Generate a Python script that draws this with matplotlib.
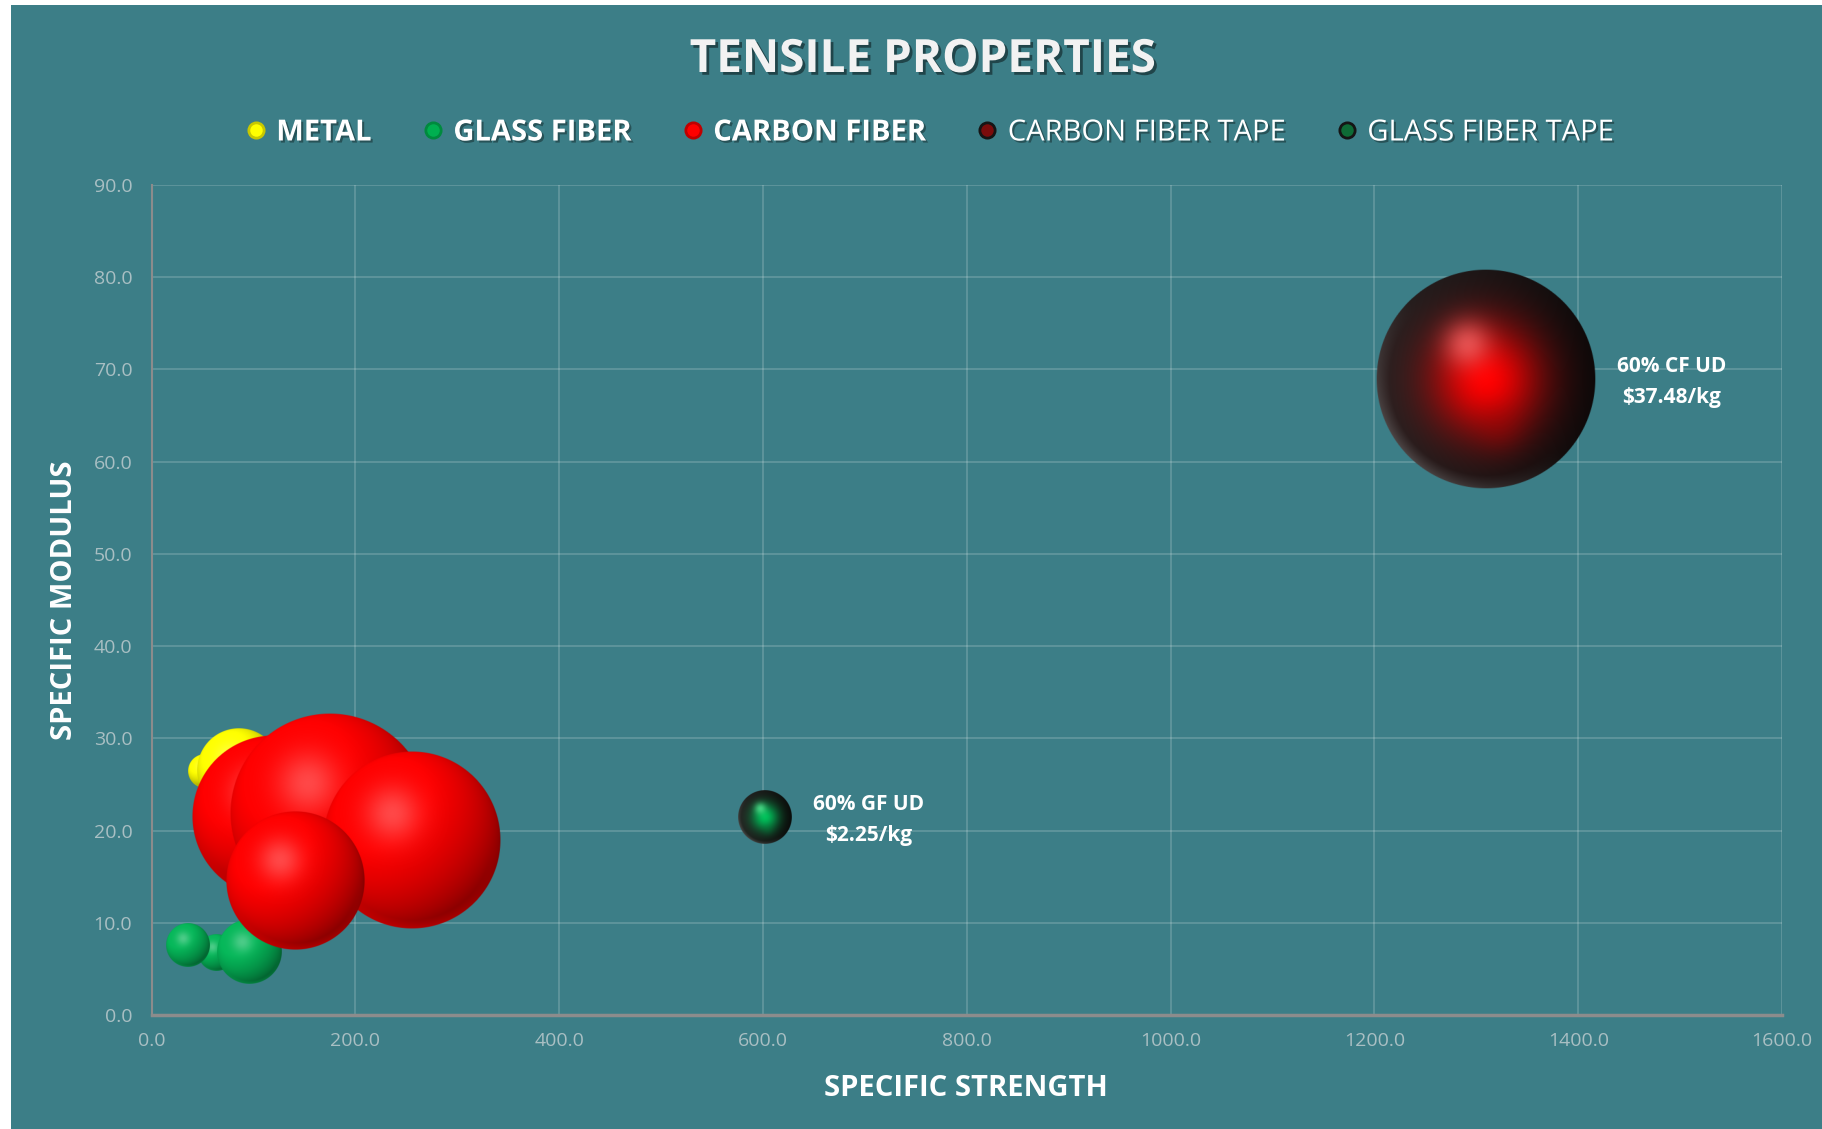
import numpy as np
import matplotlib.pyplot as plt
import matplotlib.patheffects as pe
from matplotlib.lines import Line2D
from matplotlib.patches import Rectangle
from matplotlib.ticker import FormatStrFormatter

plt.rcParams['font.family'] = ['Open Sans', 'DejaVu Sans']

# specific strength / specific modulus / cost in $/kg (bubble size)
metal_x = [52.3, 85.0]
metal_y = [26.4, 26.5]
metal_cost = [0.86, 5.35]

glass_x = [63.8, 35.2, 95.8]
glass_y = [6.8, 7.6, 6.8]
glass_cost = [1.03, 1.45, 3.2]

carbon_x = [119.4, 175.0, 255.4, 141.4]
carbon_y = [21.5, 21.9, 18.9, 14.6]
carbon_cost = [20.5, 30.8, 24.4, 14.9]

cf_tape_x = [1309.7]
cf_tape_y = [68.95]
cf_tape_cost = [37.48]

gf_tape_x = [601.9]
gf_tape_y = [21.45]
gf_tape_cost = [2.25]

series_names = ['METAL', 'GLASS FIBER', 'CARBON FIBER',
                'CARBON FIBER TAPE', 'GLASS FIBER TAPE']
x_ticks = np.arange(0, 1601, 200)
y_ticks = np.arange(0, 91, 10)

BG = '#3C7E87'
DPI = 100
R_MAX = 110.0  # radius in px of the largest bubble
cost_max = max(metal_cost + glass_cost + carbon_cost + cf_tape_cost + gf_tape_cost)


def sphere_rgba(style, base, glow=None, n=320):
    u, v = np.meshgrid(np.linspace(-1, 1, n), np.linspace(-1, 1, n))
    d = np.hypot(u, v)
    w = np.sqrt(np.clip(1 - d ** 2, 0, 1))
    alpha = np.clip((1 - d) * n / 2, 0, 1)
    base = np.array(base, dtype=float)
    if style == 'solid':
        diff = -0.42 * u - 0.50 * v + 0.755 * w
        shade = np.clip(0.66 + 0.42 * diff, 0, 1)
        rgb = base * shade[..., None]
        spot = 0.28 * np.exp(-((u + 0.22) ** 2 + (v + 0.3) ** 2) / (2 * 0.22 ** 2))
        rgb = rgb + (1 - rgb) * spot[..., None]
        rim = np.clip((d - 0.9) / 0.1, 0, 1) * np.clip(v, 0, 1)
        rgb = rgb + (base * 0.9 - rgb) * 0.6 * rim[..., None]
    else:
        # near-black glossy shell with a coloured core
        core = np.exp(-(d / 0.5) ** 2)[..., None]
        dark = np.array([0.11, 0.10, 0.10]) * np.clip(0.85 - 0.5 * u, 0.15, 1.3)[..., None]
        rgb = base * core + dark * (1 - core)
        spot = 0.7 * np.exp(-((u + 0.17) ** 2 + (v + 0.32) ** 2) / (2 * 0.15 ** 2))
        rgb = rgb + (np.array(glow) - rgb) * spot[..., None]
        low = 0.25 * np.exp(-((u - 0.12) ** 2 + (v - 0.45) ** 2) / (2 * 0.15 ** 2))
        rgb = rgb + (base * 0.7 - rgb) * low[..., None]
        rim = np.clip((d - 0.88) / 0.12, 0, 1) * np.clip(0.6 * v - 0.6 * u, 0, 1)
        rgb = rgb + 0.18 * rim[..., None]
    return np.dstack([np.clip(rgb, 0, 1), alpha])


def bubble_radius(cost):
    return R_MAX * np.sqrt(cost / cost_max)


def draw_bubbles(ax, xs, ys, costs, img, z):
    for x, y, c in zip(xs, ys, costs):
        r = bubble_radius(c)
        cx, cy = ax.transData.transform((x, y))
        (x0, y0), (x1, y1) = ax.transData.inverted().transform(
            [(cx - r, cy - r), (cx + r, cy + r)])
        ax.imshow(img, extent=(x0, x1, y0, y1), origin='upper', aspect='auto',
                  zorder=z, interpolation='antialiased')
        z += 0.01


def cost_label(ax, x, y, cost, name):
    r_pt = bubble_radius(cost) * 72 / DPI
    ax.annotate(f'{name}\n\\${cost:.2f}/kg', (x, y), xytext=(r_pt + 15, -2),
                textcoords='offset points', ha='left', va='center',
                multialignment='center', linespacing=1.6, fontsize=15,
                fontweight='bold', color='white', zorder=10)


fig = plt.figure(figsize=(18.22, 11.29), dpi=DPI, facecolor='white')
fig.add_artist(Rectangle((11 / 1822, 0), 1, 1 - 5 / 1129, transform=fig.transFigure,
                         facecolor=BG, edgecolor='none', zorder=0))

ax = fig.add_axes([0.08326, 0.10098, 0.89479, 0.73516])
ax.set_facecolor(BG)
ax.set_xlim(0, 1600)
ax.set_ylim(0, 90)
ax.set_xticks(x_ticks)
ax.set_yticks(y_ticks)
ax.xaxis.set_major_formatter(FormatStrFormatter('%.1f'))
ax.yaxis.set_major_formatter(FormatStrFormatter('%.1f'))
ax.tick_params(length=0, labelsize=14, labelcolor='#A9BFC3')
ax.tick_params(axis='x', pad=12)
ax.tick_params(axis='y', pad=14)
ax.grid(True, color='white', alpha=0.18, lw=1.3)
ax.set_axisbelow(True)
for s in ['top', 'right']:
    ax.spines[s].set_visible(False)
ax.spines['left'].set_color('#8C8C8C')
ax.spines['left'].set_linewidth(1.5)
ax.spines['bottom'].set_color('#8C8C8C')
ax.spines['bottom'].set_linewidth(2.5)

# draw order follows the series order: later points sit on top
draw_bubbles(ax, metal_x, metal_y, metal_cost, sphere_rgba('solid', (1.0, 1.0, 0.0)), 3)
draw_bubbles(ax, glass_x, glass_y, glass_cost, sphere_rgba('solid', (0.02, 0.72, 0.35)), 4)
draw_bubbles(ax, carbon_x, carbon_y, carbon_cost, sphere_rgba('solid', (1.0, 0.0, 0.0)), 5)
draw_bubbles(ax, cf_tape_x, cf_tape_y, cf_tape_cost,
             sphere_rgba('shell', (1.0, 0.0, 0.0), glow=(1.0, 0.42, 0.42)), 6)
draw_bubbles(ax, gf_tape_x, gf_tape_y, gf_tape_cost,
             sphere_rgba('shell', (0.0, 0.75, 0.35), glow=(0.35, 0.95, 0.6)), 7)
ax.set_xlim(0, 1600)
ax.set_ylim(0, 90)

cost_label(ax, cf_tape_x[0], cf_tape_y[0], cf_tape_cost[0], '60% CF UD')
cost_label(ax, gf_tape_x[0], gf_tape_y[0], gf_tape_cost[0], '60% GF UD')

ax.set_xlabel('SPECIFIC STRENGTH', fontsize=21, fontweight='bold', color='white')
ax.xaxis.label.set_va('baseline')
ax.xaxis.set_label_coords(0.4995, -0.0980)
ax.set_ylabel('SPECIFIC MODULUS', fontsize=21, fontweight='bold', color='white')
ax.yaxis.label.set_va('center')
ax.yaxis.set_label_coords(-0.0532, 0.5)

shadow = [pe.SimplePatchShadow(offset=(2, -2), shadow_rgbFace='black', alpha=0.45), pe.Normal()]
fig.text(923 / 1822, 1 - 72 / 1129, 'TENSILE PROPERTIES', ha='center', va='baseline',
         fontsize=33, fontweight='bold', color='#F2F2F2', path_effects=shadow)

# legend markers
marker_faces = ['#FFFF00', '#00B050', '#FF0000', '#7A0C0C', '#0E6B36']
marker_edges = ['#C8C800', '#008A3E', '#C00000', '#151515', '#151515']
handles = [Line2D([], [], ls='none', marker='o', ms=11, mfc=f, mec=e, mew=2)
           for f, e in zip(marker_faces, marker_edges)]
leg = fig.legend(handles, series_names, loc='center', bbox_to_anchor=(929 / 1822, 1 - 133 / 1129),
                 ncol=5, frameon=False, fontsize=21, handlelength=0.8, handletextpad=0.3,
                 columnspacing=1.7, labelcolor='white')
light_shadow = [pe.SimplePatchShadow(offset=(1.5, -1.5), shadow_rgbFace='black', alpha=0.35), pe.Normal()]
for i, t in enumerate(leg.get_texts()):
    if i < 3:
        t.set_fontweight('bold')
    t.set_path_effects(light_shadow)

fig.savefig('out.png', dpi=DPI, facecolor=fig.get_facecolor())
